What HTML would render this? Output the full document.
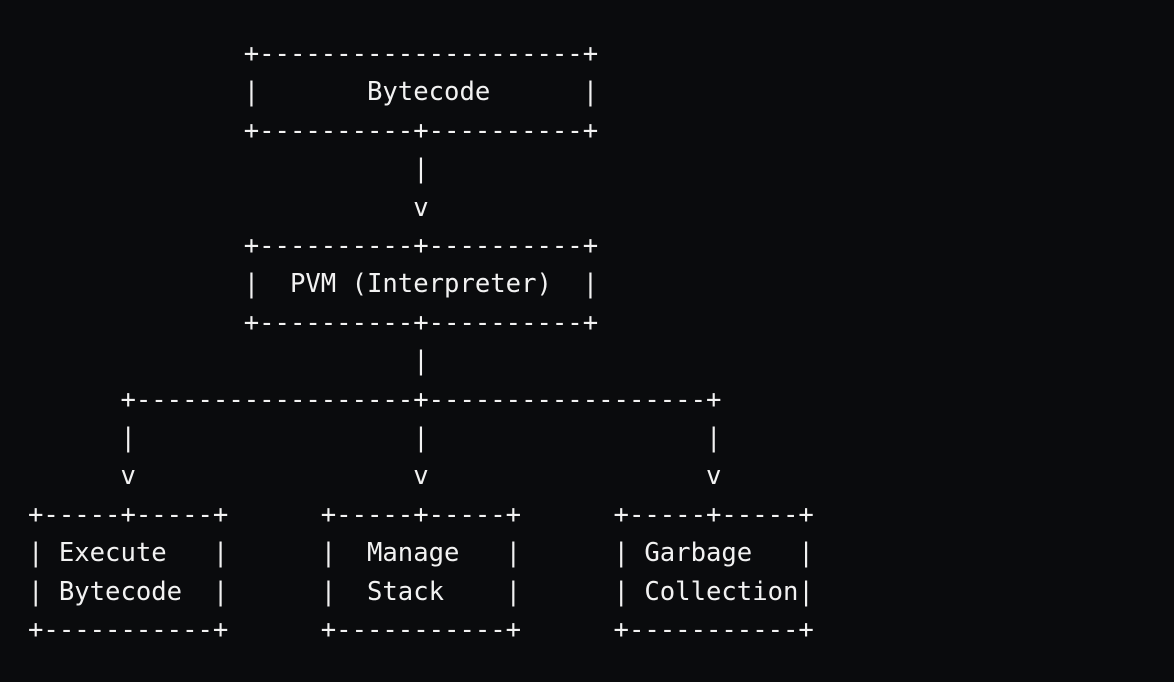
<!DOCTYPE html>
<html><head><meta charset="utf-8"><style>
html,body{margin:0;padding:0;background:#0a0b0d;width:1174px;height:682px;overflow:hidden}
pre{position:absolute;left:28px;top:35px;margin:0;font-family:"DejaVu Sans Mono","Liberation Mono",monospace;font-size:25.6px;line-height:38.4px;color:#f2f2f2;white-space:pre}
</style></head><body><pre>              +---------------------+
              |       Bytecode      |
              +----------+----------+
                         |
                         v
              +----------+----------+
              |  PVM (Interpreter)  |
              +----------+----------+
                         |
      +------------------+------------------+
      |                  |                  |
      v                  v                  v
+-----+-----+      +-----+-----+      +-----+-----+
| Execute   |      |  Manage   |      | Garbage   |
| Bytecode  |      |  Stack    |      | Collection|
+-----------+      +-----------+      +-----------+</pre></body></html>
